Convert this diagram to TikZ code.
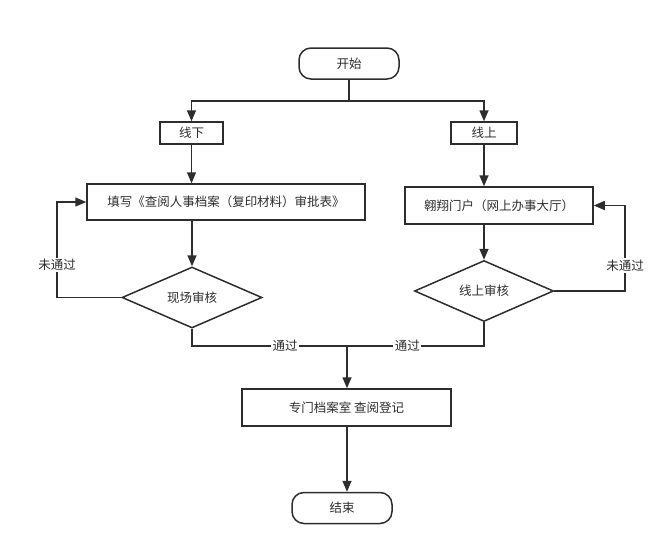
\documentclass[tikz,border=0pt]{standalone}
\usepackage{fontspec}
\newfontfamily\cjk{Noto Sans CJK SC}
\usetikzlibrary{shapes.geometric, arrows.meta, positioning}
\definecolor{cL}{RGB}{45,45,45}

\begin{document}
\begin{tikzpicture}[x=1pt, y=-1pt, line width=1.5pt, color=cL,
                    font=\cjk\fontsize{12.5}{15}\selectfont,
                    >={Triangle[length=11pt, width=9pt]},
                    term/.style={draw, rounded corners=12pt, minimum width=100pt, minimum height=31pt},
                    proc/.style={draw, inner sep=2pt},
                    check/.style={draw, diamond, aspect=2.3, inner sep=0pt, minimum width=140pt, minimum height=61pt},
                    tag/.style={fill=white, inner sep=1.5pt}]
    \useasboundingbox (0,0) rectangle (665,554);

    % Defining the boxes
    \node[term] (start) at (349,63.5) {开始};
    \node[proc, minimum width=63pt, minimum height=22pt] (offline) at (191.5,133) {线下};
    \node[proc, minimum width=66pt, minimum height=22pt] (online) at (484,133) {线上};
    \node[proc, minimum width=278pt, minimum height=36pt] (form) at (226,202) {填写《查阅人事档案（复印材料）审批表》};
    \node[proc, minimum width=188pt, minimum height=37pt] (portal) at (499,205.5) {翱翔门户（网上办事大厅）};
    \node[check] (site) at (192,297.5) {现场审核};
    \node[check, minimum width=139pt] (web) at (484,291) {线上审核};
    \node[proc, minimum width=209pt, minimum height=37pt] (archive) at (346.5,407.5) {专门档案室 查阅登记};
    \node[term] (finish) at (342,508) {结束};

    % Helper points
    \coordinate (split) at (349,101);
    \coordinate (merge) at (347,346);
    \coordinate (leftloop) at (57,0);
    \coordinate (rightloop) at (625,0);

    % Paths and transitions
    \draw[->] (start) -- (split) -| (offline);
    \draw[->] (split) -| (online);
    \draw[->] (offline.south) -- (offline.south |- form.north);
    \draw[->] (online.south) -- (online.south |- portal.north);
    \draw[->] (site.north |- form.south) -- (site.north);
    \draw[->] (web.north |- portal.south) -- (web.north);
    \draw[->] (site.west) -- (site.west -| leftloop) |- (form.west)
        node[tag, pos=0.17] {未通过};
    \draw[->] (web.east) -- (web.east -| rightloop) |- (portal.east)
        node[tag, pos=0.15] {未通过};
    \draw (site.south) |- (merge) node[tag, pos=0.8] {通过};
    \draw (web.south) |- (merge) node[tag, pos=0.78] {通过};
    \draw[->] (merge) -- (archive.north -| merge);
    \draw[->] (archive.south -| merge) -- (finish.north -| merge);

\end{tikzpicture}
\end{document}
